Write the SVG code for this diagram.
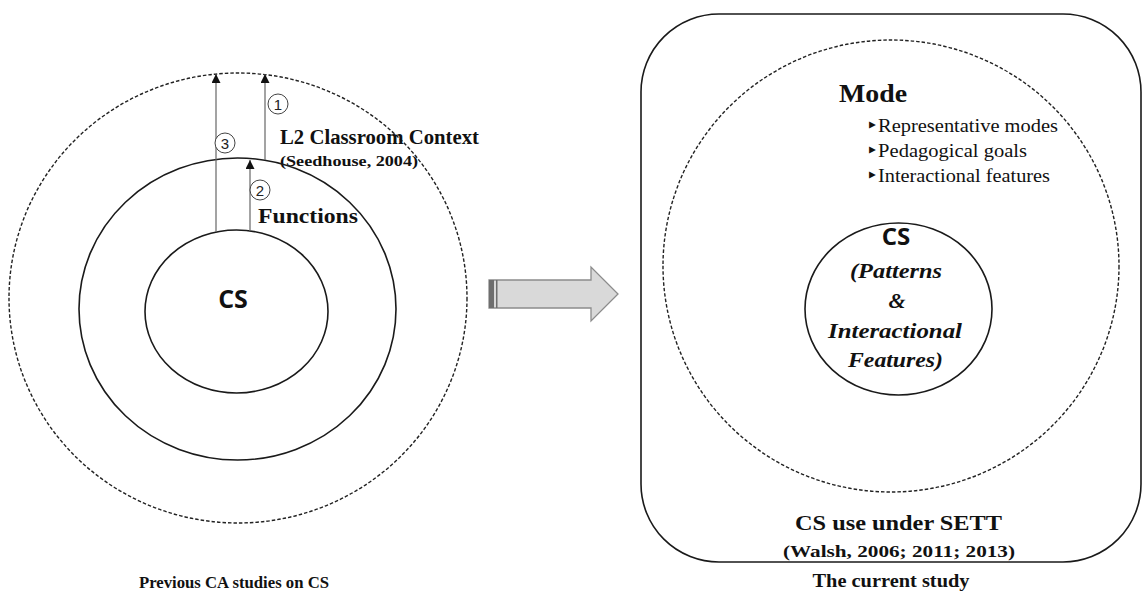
<svg xmlns="http://www.w3.org/2000/svg" width="1144" height="596" viewBox="0 0 1144 596">
<defs>
<marker id="ah" viewBox="0 0 10 10" refX="10" refY="5" markerWidth="9" markerHeight="9" markerUnits="userSpaceOnUse" orient="auto">
<path d="M0,0 L10,5 L0,10 Z" fill="#111"/>
</marker>
</defs>
<style>
.solid{fill:none;stroke:#1a1a1a;stroke-width:1.6}
.dash{fill:none;stroke:#222;stroke-width:1.4;stroke-dasharray:3.5 2}
.conn{stroke:#666;stroke-width:1.2;fill:none}
.tb{font-family:"Liberation Serif","Times New Roman","DejaVu Serif",serif;font-weight:bold;fill:#111}
.tr{font-family:"Liberation Serif","Times New Roman","DejaVu Serif",serif;fill:#111}
.tbi{font-family:"Liberation Serif","Times New Roman","DejaVu Serif",serif;font-weight:bold;font-style:italic;fill:#111}
.sans{font-family:"Open Sans","Liberation Sans",sans-serif;font-weight:bold;fill:#111}
.num{font-family:"Liberation Sans",Arial,sans-serif;font-size:15px;fill:#222}
.numc{fill:#fff;stroke:#444;stroke-width:1}
</style>
<rect width="1144" height="596" fill="#fff"/>

<g id="left-context">
<ellipse class="dash" cx="238" cy="298" rx="229" ry="225"/>
<text class="tb" x="280" y="144" font-size="20" textLength="199" lengthAdjust="spacingAndGlyphs">L2 Classroom Context</text>
<text class="tb" x="280" y="166" font-size="15" textLength="138" lengthAdjust="spacingAndGlyphs">(Seedhouse, 2004)</text>
</g>
<g id="left-functions">
<ellipse class="solid" cx="237.5" cy="309" rx="158.5" ry="151"/>
<text class="tb" x="258" y="223" font-size="22" textLength="100" lengthAdjust="spacingAndGlyphs">Functions</text>
</g>
<g id="left-cs">
<ellipse class="solid" cx="236.5" cy="311.5" rx="91.5" ry="81.5"/>
<text class="sans" x="233" y="308" font-size="25" text-anchor="middle">CS</text>
</g>

<g id="connectors">
<line class="conn" x1="216" y1="232" x2="216" y2="74" marker-end="url(#ah)"/>
<line class="conn" x1="265" y1="160" x2="265" y2="74" marker-end="url(#ah)"/>
<line class="conn" x1="250" y1="231" x2="250" y2="160" marker-end="url(#ah)"/>
</g>

<g id="labels-numbers">
<circle class="numc" cx="278" cy="104" r="10"/>
<text class="num" x="278" y="109.5" text-anchor="middle">1</text>
<circle class="numc" cx="225" cy="143" r="10"/>
<text class="num" x="225" y="148.5" text-anchor="middle">3</text>
<circle class="numc" cx="260" cy="190" r="10"/>
<text class="num" x="260" y="195.5" text-anchor="middle">2</text>
</g>

<g id="caption-left">
<text class="tb" x="234" y="588" font-size="17" text-anchor="middle" textLength="190" lengthAdjust="spacingAndGlyphs">Previous CA studies on CS</text>
</g>

<g id="block-arrow">
<path d="M489,280 L591,280 L591,267 L618,294 L591,321 L591,308 L489,308 Z" fill="#d9d9d9" stroke="#8c8c8c" stroke-width="1.3"/>
<rect x="489" y="280" width="5" height="28" fill="#6e6e6e"/>
<rect x="496" y="280" width="1.5" height="28" fill="#6e6e6e"/>
</g>

<g id="right-sett">
<rect class="solid" x="641" y="14" width="500" height="548" rx="78" ry="78"/>
<text class="tb" x="898.5" y="530" font-size="22" text-anchor="middle" textLength="207" lengthAdjust="spacingAndGlyphs">CS use under SETT</text>
<text class="tb" x="899" y="557" font-size="17" text-anchor="middle" textLength="232" lengthAdjust="spacingAndGlyphs">(Walsh, 2006; 2011; 2013)</text>
</g>
<g id="right-mode">
<ellipse class="dash" cx="891" cy="266" rx="228" ry="226"/>
<text class="tb" x="839" y="102" font-size="26" textLength="68" lengthAdjust="spacingAndGlyphs">Mode</text>
<text class="tr" x="866" y="132" font-size="18" textLength="192" lengthAdjust="spacingAndGlyphs">‣Representative modes</text>
<text class="tr" x="866" y="157" font-size="18" textLength="161" lengthAdjust="spacingAndGlyphs">‣Pedagogical goals</text>
<text class="tr" x="866" y="182" font-size="18" textLength="184" lengthAdjust="spacingAndGlyphs">‣Interactional features</text>
</g>
<g id="right-cs">
<ellipse class="solid" cx="898.5" cy="309" rx="93.5" ry="86"/>
<text class="sans" x="896" y="245" font-size="24" text-anchor="middle">CS</text>
<text class="tbi" x="896" y="278" font-size="22" text-anchor="middle" textLength="92" lengthAdjust="spacingAndGlyphs">(Patterns</text>
<text class="tbi" x="897" y="308" font-size="22" text-anchor="middle">&amp;</text>
<text class="tbi" x="895" y="338" font-size="22" text-anchor="middle" textLength="134" lengthAdjust="spacingAndGlyphs">Interactional</text>
<text class="tbi" x="895.5" y="367" font-size="22" text-anchor="middle" textLength="95" lengthAdjust="spacingAndGlyphs">Features)</text>
</g>

<g id="caption-right">
<text class="tb" x="891" y="587" font-size="18" text-anchor="middle" textLength="157" lengthAdjust="spacingAndGlyphs">The current study</text>
</g>
</svg>
